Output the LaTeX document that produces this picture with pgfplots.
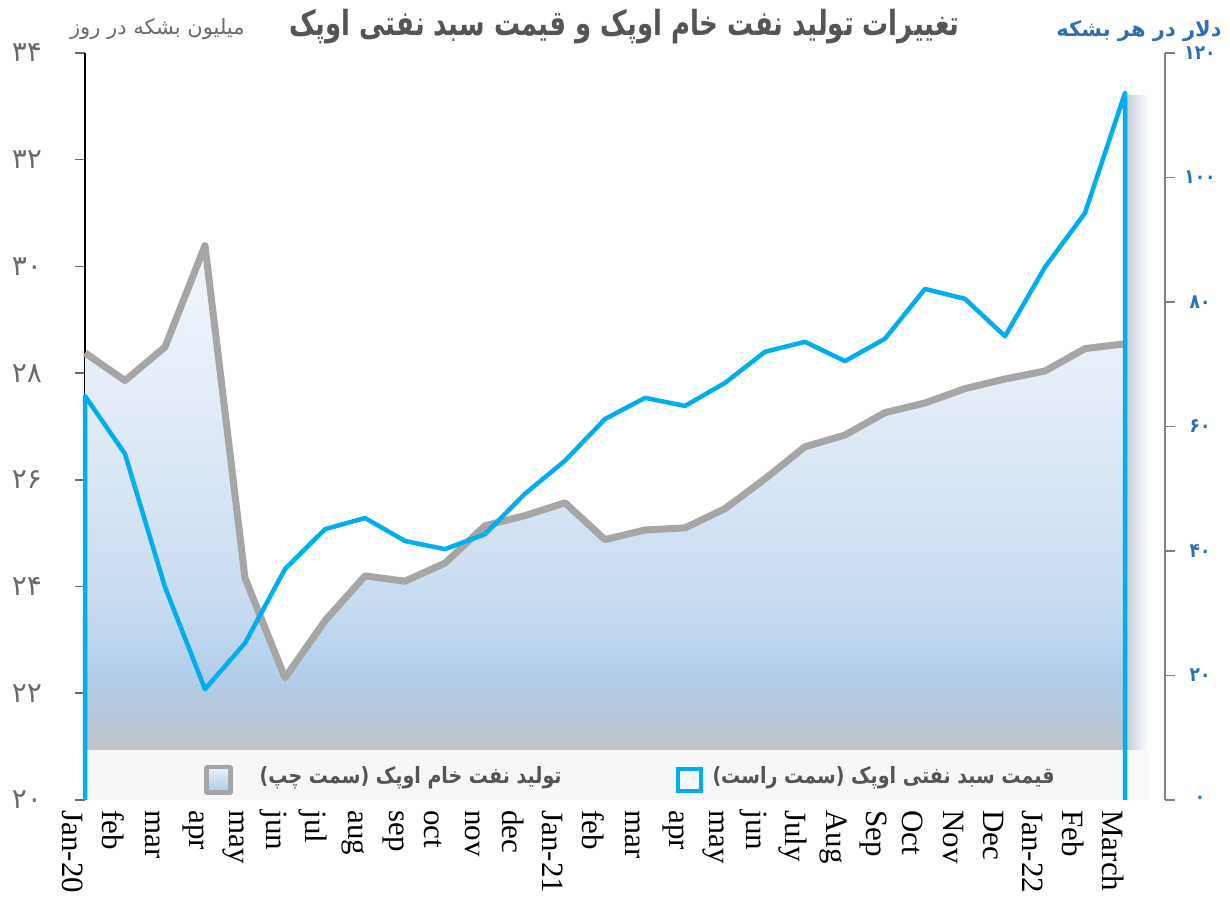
\documentclass[border=0pt]{standalone}
\usepackage{pgfplots}
\usepackage{pgfplotstable}
\pgfplotsset{compat=1.18}
\usepackage{fontspec}
\TeXXeTstate=1
\newfontfamily\arabicfont[Script=Arabic]{DejaVu Sans}
\newfontfamily\arabiccond[Script=Arabic, FakeStretch=0.85]{DejaVu Sans}
\newfontfamily\arabictitle[Script=Arabic, FakeStretch=0.75]{DejaVu Sans}
\newfontfamily\serif{Liberation Serif}
\definecolor{priceblue}{HTML}{00AEEF}
\definecolor{prodgray}{HTML}{A6A6A6}
\definecolor{titlegray}{HTML}{555555}
\definecolor{lblgray}{HTML}{6A6A6A}
\definecolor{rblue}{HTML}{2F6EB5}
\definecolor{sh0}{HTML}{C0C4C9}
\definecolor{sh1}{HTML}{B8C6D4}
\definecolor{sh2}{HTML}{B2CDE9}
\definecolor{sh3}{HTML}{C9DCF0}
\definecolor{sh4}{HTML}{E3ECF7}
\definecolor{sh5}{HTML}{F1F5FB}
\definecolor{bandc}{HTML}{F8FAFC}
\definecolor{shadowc}{HTML}{C3CAD4}
\pgfdeclareverticalshading{areafill}{100bp}{color(0bp)=(sh0); color(30bp)=(sh0); color(32bp)=(sh1); color(36bp)=(sh2); color(43bp)=(sh3); color(61bp)=(sh4); color(75bp)=(sh5); color(100bp)=(sh5)}

\pgfplotstableread{
x prod
0 28.38
1 27.86
2 28.49
3 30.39
4 24.16
5 22.29
6 23.36
7 24.20
8 24.10
9 24.44
10 25.14
11 25.33
12 25.57
13 24.88
14 25.06
15 25.10
16 25.46
17 26.02
18 26.62
19 26.84
20 27.26
21 27.44
22 27.71
23 27.89
24 28.04
25 28.46
26 28.55
}\prodtable

\pgfplotstableread{
x price
0 0
0 64.9
1 55.6
2 34.2
3 17.8
4 25.2
5 37.1
6 43.5
7 45.3
8 41.6
9 40.3
10 42.7
11 49.2
12 54.5
13 61.2
14 64.6
15 63.3
16 67.0
17 72.0
18 73.6
19 70.5
20 74.1
21 82.1
22 80.5
23 74.5
24 85.6
25 94.3
26 113.6
26 0
}\pricetable

\begin{document}
\begin{tikzpicture}
\useasboundingbox (0,0) rectangle (615pt,448.5pt);
\begin{axis}[
  at={(42.5pt,48.5pt)}, anchor=south west,
  scale only axis, width=540pt, height=373.5pt,
  xmin=0, xmax=27, ymin=20, ymax=34,
  axis x line*=bottom, axis y line*=left,
  x axis line style={draw=none},
  y axis line style={line width=1pt, black, -},
  xtick={0,...,26},
  xticklabels={Jan-20,feb,mar,apr,may,jun,jul,aug,sep,oct,nov,dec,Jan-21,feb,mar,apr,may,jun,July,Aug,Sep,Oct,Nov,Dec,Jan-22,Feb,March},
  x tick style={draw=none},
  xticklabel style={rotate=-90, anchor=west, font=\serif\fontsize{15.5}{16}\selectfont, inner sep=0pt, yshift=-6pt},
  ytick={20,22,...,34},
  yticklabels={۲۰,۲۲,۲۴,۲۶,۲۸,۳۰,۳۲,۳۴},
  tick align=outside, major tick length=5pt,
  y tick style={lblgray, line width=0.8pt},
  yticklabel style={font=\arabicfont\fontsize{14}{14}\selectfont, text=lblgray, anchor=center, xshift=-24pt},
  clip=false,
]
\addplot[draw=none, shade, shading=areafill] table[x=x,y=prod]{\prodtable} \closedcycle;
\fill[left color=shadowc, right color=white] (axis cs:26,20.9) rectangle (axis cs:26.6,33.2);
\fill[bandc, opacity=0.95] (axis cs:0,20) rectangle (axis cs:26.6,20.94);
\addplot[prodgray, line width=3.5pt, line join=round] table[x=x,y=prod]{\prodtable};
\end{axis}
\begin{axis}[
  at={(42.5pt,48.5pt)}, anchor=south west,
  scale only axis, width=540pt, height=373.5pt,
  xmin=0, xmax=27, ymin=0, ymax=120,
  axis x line=none, axis y line*=right,
  y axis line style={line width=1pt, gray, -},
  ytick={0,20,...,120},
  yticklabels={۰,۲۰,۴۰,۶۰,۸۰,۱۰۰,۱۲۰},
  tick align=outside, major tick length=5pt,
  y tick style={gray, line width=0.8pt},
  yticklabel style={font=\arabiccond\bfseries\fontsize{10}{10}\selectfont, text=rblue, anchor=center, xshift=12.5pt},
  clip=false,
]
\addplot[priceblue, line width=2.25pt, line join=round] table[x=x,y=price]{\pricetable};
\end{axis}
% legend
\fill[prodgray, rounded corners=1.5pt] (102pt,51pt) rectangle (116.5pt,66pt);
\fill[top color=sh4, bottom color=sh2] (104.5pt,53.5pt) rectangle (114pt,63.5pt);
\draw[priceblue, line width=2pt] (339pt,53pt) rectangle (350.5pt,64pt);
\node[anchor=east, text=titlegray, font=\arabiccond\bfseries\fontsize{11.2}{11.2}\selectfont, inner sep=0pt] at (527.5pt,59.5pt) {\beginR قیمت سبد نفتی اوپک (سمت راست)\endR};
\node[anchor=east, text=titlegray, font=\arabiccond\bfseries\fontsize{11.2}{11.2}\selectfont, inner sep=0pt] at (281pt,59.5pt) {\beginR تولید نفت خام اوپک (سمت چپ)\endR};
% title and unit labels
\node[anchor=east, text=titlegray, font=\arabictitle\bfseries\fontsize{17.3}{17.3}\selectfont, inner sep=0pt] at (480pt,435pt) {\beginR تغییرات تولید نفت خام اوپک و قیمت سبد نفتی اوپک\endR};
\node[anchor=east, text=lblgray, font=\arabicfont\fontsize{10.5}{10.5}\selectfont, inner sep=0pt] at (122.5pt,434pt) {\beginR میلیون بشکه در روز\endR};
\node[anchor=east, text=rblue, font=\arabicfont\bfseries\fontsize{10.5}{10.5}\selectfont, inner sep=0pt] at (611pt,433pt) {\beginR دلار در هر بشکه\endR};
\end{tikzpicture}
\end{document}
